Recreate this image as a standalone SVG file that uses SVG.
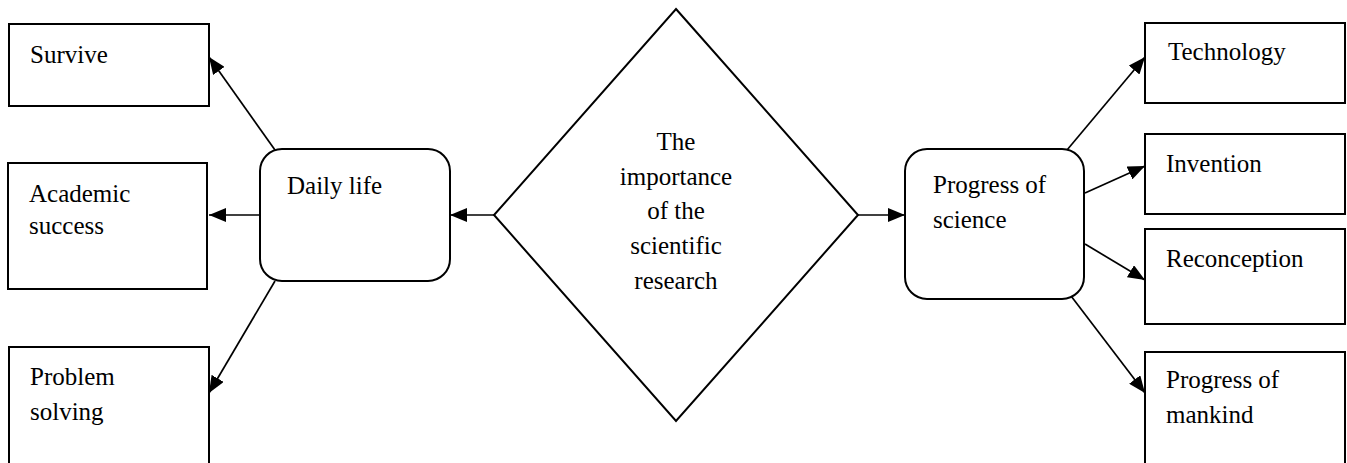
<svg xmlns="http://www.w3.org/2000/svg" width="1347" height="463" viewBox="0 0 1347 463">
<style>
.box{fill:#fff;stroke:#000;stroke-width:2}
.rbox{fill:#fff;stroke:#000;stroke-width:2}
.t{font-family:"Liberation Serif","Times New Roman",serif;font-size:25px;fill:#000}
.c{text-anchor:middle}
.edge{fill:none;stroke:#000;stroke-width:1.7;marker-end:url(#ah)}
</style>
<defs>
<marker id="ah" markerUnits="userSpaceOnUse" markerWidth="17" markerHeight="14" refX="17" refY="7" orient="auto">
<path d="M0,0 L17,7 L0,14 z" fill="#000"/>
</marker>
</defs>
<g id="connectors">
<line class="edge" x1="275" y1="150" x2="209" y2="57"/>
<line class="edge" x1="260" y1="215" x2="209" y2="215"/>
<line class="edge" x1="275" y1="281" x2="209" y2="393"/>
<line class="edge" x1="495" y1="215" x2="450" y2="215"/>
<line class="edge" x1="858" y1="215" x2="905" y2="215"/>
<line class="edge" x1="1067" y1="150" x2="1145" y2="57"/>
<line class="edge" x1="1085" y1="193" x2="1145" y2="166"/>
<line class="edge" x1="1085" y1="244" x2="1145" y2="280"/>
<line class="edge" x1="1068" y1="292" x2="1145" y2="393"/>
</g>
<g id="survive"><rect class="box" x="9" y="24" width="200" height="82"/><text class="t" x="30" y="63">Survive</text></g>
<g id="academic"><rect class="box" x="8" y="163" width="199" height="126"/><text class="t" x="29" y="202">Academic</text><text class="t" x="29" y="234">success</text></g>
<g id="problem"><rect class="box" x="9" y="347" width="200" height="130"/><text class="t" x="30" y="385">Problem</text><text class="t" x="30" y="420">solving</text></g>
<g id="daily"><rect class="rbox" x="260" y="149" width="190" height="132" rx="22" ry="22"/><text class="t" x="287" y="194">Daily life</text></g>
<g id="center"><polygon class="box" points="676,9 858,215 676,421 494,215"/>
<text class="t c" x="676" y="150">The</text>
<text class="t c" x="676" y="185">importance</text>
<text class="t c" x="676" y="219">of the</text>
<text class="t c" x="676" y="254">scientific</text>
<text class="t c" x="676" y="289">research</text></g>
<g id="progress-science"><rect class="rbox" x="905" y="149" width="179" height="150" rx="22" ry="22"/><text class="t" x="933" y="193">Progress of</text><text class="t" x="933" y="228">science</text></g>
<g id="technology"><rect class="box" x="1145" y="23" width="200" height="80"/><text class="t" x="1168" y="60">Technology</text></g>
<g id="invention"><rect class="box" x="1145" y="134" width="200" height="80"/><text class="t" x="1166" y="172">Invention</text></g>
<g id="reconception"><rect class="box" x="1145" y="229" width="200" height="95"/><text class="t" x="1166" y="267">Reconception</text></g>
<g id="mankind"><rect class="box" x="1145" y="352" width="200" height="125"/><text class="t" x="1166" y="388">Progress of</text><text class="t" x="1166" y="423">mankind</text></g>
</svg>
